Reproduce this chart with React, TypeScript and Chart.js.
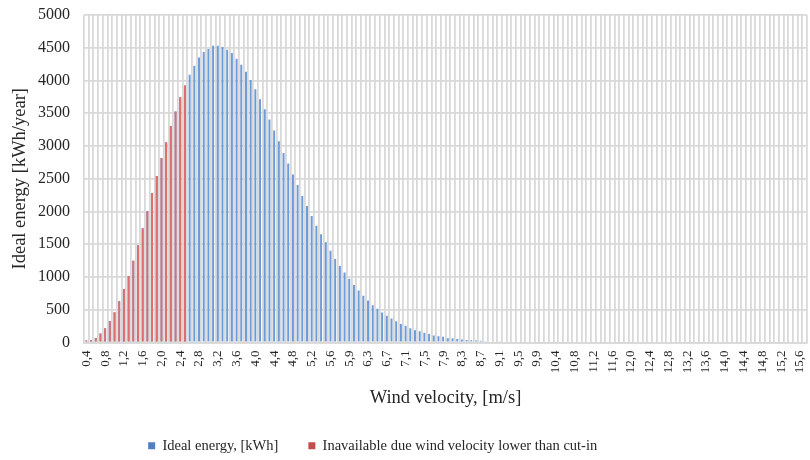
import React, { useEffect, useRef } from 'react';
import { Chart, registerables } from 'chart.js';

Chart.register(...registerables);

// Tick labels shown on the category axis (one every 4 categories)
const TICK_LABELS = [
  '0,4', '0,8', '1,2', '1,6', '2,0', '2,4', '2,8', '3,2', '3,6', '4,0',
  '4,4', '4,8', '5,2', '5,6', '5,9', '6,3', '6,7', '7,1', '7,5', '7,9',
  '8,3', '8,7', '9,1', '9,5', '9,9', '10,4', '10,8', '11,2', '11,6', '12,0',
  '12,4', '12,8', '13,2', '13,6', '14,0', '14,4', '14,8', '15,2', '15,6',
];
const CATEGORY_COUNT = 154;
const LABEL_EVERY = 4;

// Ideal energy per velocity bin [kWh/year]
const IDEAL_ENERGY = [
  30, 35, 70, 138, 219, 330, 463, 631, 815, 1014,
  1248, 1483, 1743, 2003, 2283, 2543, 2818, 3058, 3307, 3526,
  3746, 3923, 4087, 4225, 4352, 4434, 4480, 4531, 4531, 4510,
  4469, 4418, 4332, 4240, 4133, 4006, 3868, 3715, 3562, 3404,
  3235, 3073, 2894, 2731, 2563, 2405, 2237, 2084, 1931, 1783,
  1651, 1529, 1401, 1274, 1167, 1070, 973, 876, 795, 713,
  642, 570, 514, 459, 407, 367, 326, 284, 254, 219,
  188, 173, 147, 131, 107, 96, 86, 66, 66, 55,
  45, 40, 33, 30, 26, 20, 17, 15, 13,
];

// Energy not available because wind velocity is below cut-in
const UNAVAILABLE = [
  30, 35, 70, 138, 219, 330, 463, 631, 815, 1014,
  1248, 1483, 1743, 2003, 2283, 2543, 2818, 3058, 3307, 3526,
  3746, 3923,
];

const Y_MIN = 0;
const Y_MAX = 5000;
const Y_STEP = 500;

const BLUE = '#4f81bd';
const RED = '#c0504d';
const BLUE_BAR = '#6d9bd8';
const RED_BAR = '#de6f6c';
const GRID = '#d9d9d9';
const TEXT = '#262626';
const FONT = "'Liberation Serif', 'Times New Roman', serif";

export default function App() {
  const ref = useRef<HTMLCanvasElement | null>(null);

  useEffect(() => {
    document.body.style.margin = '0';
    const canvas = ref.current;
    if (!canvas) return;

    const categories: string[] = [];
    for (let i = 0; i < CATEGORY_COUNT; i++) {
      categories.push(i % LABEL_EVERY === 0 && TICK_LABELS[i / LABEL_EVERY] ? TICK_LABELS[i / LABEL_EVERY] : '');
    }

    const chart = new Chart(canvas, {
      type: 'bar',
      data: {
        labels: categories,
        datasets: [
          {
            label: 'Ideal energy, [kWh]',
            data: IDEAL_ENERGY,
            backgroundColor: BLUE_BAR,
            borderWidth: 0,
            grouped: false,
            order: 1,
            barPercentage: 0.42,
            categoryPercentage: 1,
          },
          {
            label: 'Inavailable due wind velocity lower than cut-in',
            data: UNAVAILABLE,
            backgroundColor: RED_BAR,
            borderWidth: 0,
            grouped: false,
            order: 0,
            barPercentage: 0.42,
            categoryPercentage: 1,
          },
        ],
      },
      options: {
        responsive: false,
        animation: false,
        layout: { padding: { top: 0, right: 3, left: 0, bottom: -3 } },
        plugins: {
          tooltip: { enabled: false },
          legend: {
            position: 'bottom',
            labels: {
              boxWidth: 7,
              boxHeight: 7,
              padding: 1,
              color: TEXT,
              font: { family: FONT, size: 14.5 },
              sort: (a: any, b: any) => a.datasetIndex - b.datasetIndex,
              generateLabels: (c: any) =>
                Chart.defaults.plugins.legend.labels.generateLabels(c).map((it: any) => ({
                  ...it,
                  fillStyle: it.datasetIndex === 0 ? BLUE : RED,
                  text:
                    it.datasetIndex === 0
                      ? it.text + '        '
                      : it.text + '                 ',
                })),
            },
          },
        },
        scales: {
          x: {
            grid: { color: GRID, lineWidth: 1.8, offset: true, drawTicks: false },
            border: { color: GRID, width: 1.8 },
            ticks: {
              autoSkip: false,
              minRotation: 90,
              maxRotation: 90,
              padding: 8,
              color: TEXT,
              font: { family: FONT, size: 13 },
            },
            title: {
              display: true,
              text: 'Wind velocity, [m/s]',
              color: TEXT,
              font: { family: FONT, size: 18.5 },
              padding: { top: 6, bottom: 28 },
            },
            afterFit: (s: any) => {
              s.height = 95;
              s.paddingLeft = 0;
              s.paddingRight = 0;
            },
          },
          y: {
            min: Y_MIN,
            max: Y_MAX,
            grid: { color: GRID, lineWidth: 1.8, drawTicks: false },
            border: { display: false },
            ticks: {
              stepSize: Y_STEP,
              padding: 14,
              color: TEXT,
              font: { family: FONT, size: 16 },
              callback: (v: any) => String(v),
            },
            title: {
              display: true,
              text: 'Ideal energy [kWh/year]',
              color: TEXT,
              font: { family: FONT, size: 18.5 },
              padding: { top: 9, bottom: 8 },
            },
            afterFit: (s: any) => {
              s.width = 84;
              s.paddingTop = 15;
              s.paddingBottom = 0;
            },
          },
        },
      },
    });

    return () => chart.destroy();
  }, []);

  return (
    <div style={{ width: 810, height: 460 }}>
      <canvas ref={ref} width={810} height={460} />
    </div>
  );
}
